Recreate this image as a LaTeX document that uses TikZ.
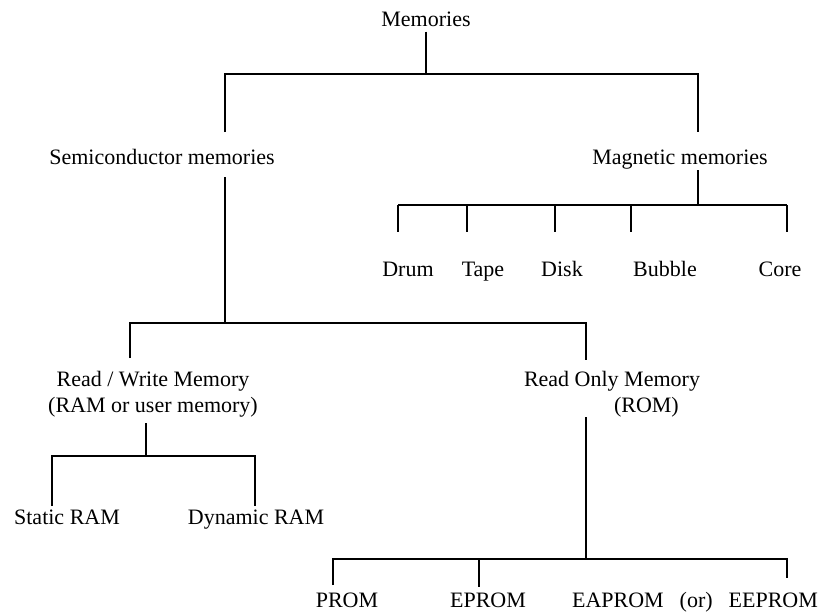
\documentclass[tikz,border=0pt]{standalone}
\usepackage{fontspec}
\setmainfont{Liberation Serif}
\begin{document}
\begin{tikzpicture}[x=1pt,y=-1pt,line width=2pt,
  lbl/.style={inner sep=0pt,font=\fontsize{22}{26}\selectfont},
  leaf/.style={lbl,text height=15pt,text depth=4pt}]
\useasboundingbox (0,0) rectangle (821,613);
% labels
\node[leaf] (mem) at (426,21) {Memories};
\node[leaf] (semi) at (162,159) {Semiconductor memories};
\node[leaf] (mag) at (680,159) {Magnetic memories};
\node[leaf] (drum) at (408,271) {Drum};
\node[leaf] (tape) at (483,271) {Tape};
\node[leaf] (disk) at (562,271) {Disk};
\node[leaf] (bubble) at (665,271) {Bubble};
\node[leaf] (core) at (780,271) {Core};
\node[lbl,align=center] (rw) at (153,394) {Read / Write Memory\\(RAM or user memory)};
\node[lbl,align=left] (rom) at (612,394) {Read Only Memory\\\hspace*{90pt}(ROM)};
\node[leaf] (sram) at (67,519) {Static RAM};
\node[leaf] (dram) at (256,519) {Dynamic RAM};
\node[leaf] (prom) at (347,602) {PROM};
\node[leaf] (eprom) at (488,602) {EPROM};
\node[leaf] (eeprom) at (695,602) {EAPROM\hspace{16pt}(or)\hspace{16pt}EEPROM};
% branch points
\coordinate (j1) at (426,74);
\coordinate (s1) at (225,132);
\coordinate (m1) at (698,132);
\coordinate (s2) at (225,177);
\coordinate (j2) at (225,323);
\coordinate (rw1) at (130,358);
\coordinate (ro1) at (586,360);
\coordinate (m2) at (698,170);
\coordinate (j3) at (698,205);
\coordinate (rw2) at (146,423);
\coordinate (j4) at (146,456);
\coordinate (ro2) at (586,417);
\coordinate (j5) at (586,559);
% tree lines
\draw (mem.south) -- (j1);
\draw (s1) |- (j1) -| (m1);
\draw (s2) -- (j2);
\draw (rw1) |- (j2) -| (ro1);
\draw (m2) -- (j3);
\draw (398,205) -- (787,205);
\foreach \x in {398,467,555,631,787}
  \draw (\x,205) -- (\x,232);
\draw (rw2) -- (j4);
\draw (52,506) |- (j4) -| (255,506);
\draw (ro2) -- (j5);
\draw (333,585) |- (j5) -| (787,578);
\draw (479,559) -- (479,587);
\end{tikzpicture}
\end{document}
